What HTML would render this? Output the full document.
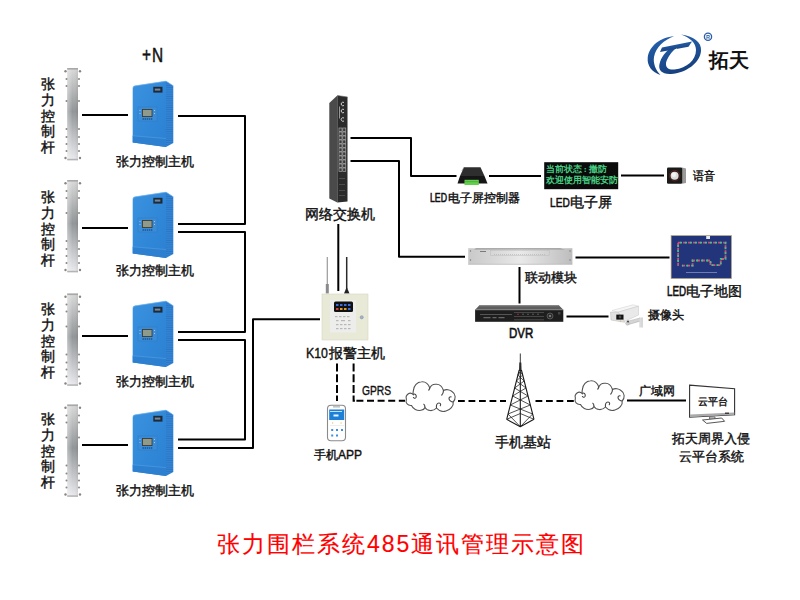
<!DOCTYPE html>
<html><head><meta charset="utf-8">
<style>
html,body{margin:0;padding:0;background:#fff;width:800px;height:600px;overflow:hidden;}
body{position:relative;font-family:"Liberation Sans",sans-serif;color:#111;}
.t{position:absolute;white-space:nowrap;line-height:1;-webkit-text-stroke:0.4px #111;}
.v{position:absolute;width:14px;font-size:14px;line-height:15.75px;text-align:center;-webkit-text-stroke:0.4px #111;}
.n{display:inline-block;transform-origin:0 50%;}
svg{position:absolute;left:0;top:0;}
</style></head><body>
<svg width="800" height="600" viewBox="0 0 800 600">
<defs>
  <linearGradient id="pole" x1="0" y1="0" x2="0" y2="1">
    <stop offset="0" stop-color="#dadada"/><stop offset="0.47" stop-color="#929698"/><stop offset="1" stop-color="#ebebef"/>
  </linearGradient>
  <linearGradient id="poleh" x1="0" y1="0" x2="1" y2="0">
    <stop offset="0" stop-color="#fff" stop-opacity="0.35"/><stop offset="0.5" stop-color="#fff" stop-opacity="0"/><stop offset="1" stop-color="#000" stop-opacity="0.08"/>
  </linearGradient>
  <linearGradient id="rack" x1="0" y1="0" x2="1" y2="0">
    <stop offset="0" stop-color="#c9c9c9"/><stop offset="0.25" stop-color="#d8d8d8"/><stop offset="0.5" stop-color="#e9e9e9"/><stop offset="0.8" stop-color="#cfcfcf"/><stop offset="1" stop-color="#bdbdbd"/>
  </linearGradient>
  <linearGradient id="hostf" x1="0" y1="0" x2="1" y2="1">
    <stop offset="0" stop-color="#3a92df"/><stop offset="1" stop-color="#2b80d2"/>
  </linearGradient>
  <pattern id="vents" width="4" height="2.2" patternUnits="userSpaceOnUse">
    <rect width="4" height="2.2" fill="#3283d4"/><rect y="1.4" width="4" height="0.8" fill="#2a76c4"/>
  </pattern>
  <g id="host">
    <!-- side -->
    <path d="M166 81L173.3 85.8V143L166 147Z" fill="url(#vents)"/>
    <!-- front -->
    <path d="M132.7 88.5Q132.7 86 135 85.7L166 81V147L132.7 142.5Z" fill="url(#hostf)"/>
    <path d="M132.7 135.8L166 138.5V147L132.7 142.5Z" fill="#2d80d0"/>
    <path d="M132.7 135.8L166 138.5" stroke="#5aa6e8" stroke-width="0.5" fill="none"/>
    <path d="M133 88Q133 86.2 135 85.9L166 81.2L173.3 85.8" stroke="#70b6f0" stroke-width="0.7" fill="none"/>
    <!-- logo plate -->
    <rect x="153.3" y="86.8" width="9.2" height="5.8" fill="#1f2a38"/>
    <rect x="154.8" y="88.6" width="5.5" height="2" fill="#6f8aa0"/>
    <!-- panel -->
    <rect x="138" y="107" width="19" height="14" fill="#3a8cd8" stroke="#2f78c0" stroke-width="0.5"/>
    <rect x="142" y="109" width="10.5" height="8" fill="#3e3a30"/>
    <rect x="142.9" y="109.9" width="8.7" height="6.2" fill="#8e9a8c"/>
    <g fill="#9fc8ee"><rect x="139.5" y="110" width="1" height="1"/><rect x="139.5" y="113" width="1" height="1"/><rect x="154" y="110" width="1" height="1"/><rect x="154" y="113" width="1" height="1"/></g>
    <g fill="#1b4f88"><rect x="142.5" y="118.3" width="1.4" height="1.4"/><rect x="144.6" y="118.3" width="1.4" height="1.4"/><rect x="146.7" y="118.3" width="1.4" height="1.4"/><rect x="148.8" y="118.3" width="1.4" height="1.4"/><rect x="150.9" y="118.3" width="1.4" height="1.4"/></g>
  </g>
  <g id="pol">
    <rect x="67.2" y="68" width="10.8" height="92.3" fill="url(#pole)"/>
    <rect x="67.2" y="68" width="10.8" height="92.3" fill="url(#poleh)"/>
    <rect x="67.2" y="68" width="10.8" height="1.6" fill="#a8a8a8"/>
    <rect x="67.2" y="158.8" width="10.8" height="1.5" fill="#b4b4b4"/>
    <g fill="#8a8580">
      <circle cx="65.5" cy="71.3" r="1.2"/><circle cx="80" cy="71.3" r="1.2"/>
      <circle cx="66.5" cy="79" r="1"/><circle cx="79" cy="79" r="1"/>
      <circle cx="66.5" cy="86" r="1"/><circle cx="79" cy="86" r="1"/>
      <circle cx="66.5" cy="101" r="1"/><circle cx="79" cy="101" r="1"/>
      <circle cx="66.5" cy="129" r="1"/><circle cx="79" cy="129" r="1"/>
      <circle cx="66.5" cy="137" r="1"/><circle cx="79" cy="137" r="1"/>
      <circle cx="66.5" cy="144" r="1"/><circle cx="79" cy="144" r="1"/>
      <circle cx="66.5" cy="151" r="1"/><circle cx="79" cy="151" r="1"/>
      <circle cx="65.5" cy="158" r="1.2"/><circle cx="80" cy="158" r="1.2"/>
    </g>
  </g>
  <g id="cloud">
    <path d="M413 394.5C410 391 405 395 406.4 399C405 403 408 406 411.5 405.5C413 409 417 411 421 410.3C423 410 424.5 409 425 407.5C427 411 433 412 436.5 408C439 411 443 412 446 411C450 410 454 406 453.2 402C456 399 456 394 452 391.5C450 389.5 446 389 443.5 390.5C442 386 440 384 436 384.3C433 384 431 385.5 429.8 388C428 383 425 381.5 421.5 381.8C417 382 414 386 413.5 390C413 392 413 393.5 413 394.5Z" fill="#fff" stroke="#555" stroke-width="1.1"/>
    <path d="M413 394.5C415 393 417 395.5 416 397.5C415 399 413.5 398 413.3 397M429.8 388C429.5 389 429 390 428.5 390.5M443.5 390.5C443.5 393 442.5 394.5 441.5 395.5M453.2 402C451 402 449 400 449 398.5C449 397 450.5 396.5 451.5 397M436.5 408C436 405 437 403 439 403C441 403 441 405 440 406M425 407.5C425 406 424.5 404.5 423.5 404" fill="none" stroke="#444" stroke-width="1.1"/>
  </g>
</defs>

<!-- poles -->
<use href="#pol"/>
<use href="#pol" y="112"/>
<use href="#pol" y="225.5"/>
<use href="#pol" y="336.5"/>
<!-- hosts -->
<use href="#host"/>
<use href="#host" y="111"/>
<use href="#host" y="220"/>
<use href="#host" y="329"/>

<g stroke="#000" stroke-width="2" fill="none" stroke-linejoin="round">
  <path d="M82 115H128M82 228H128M82 336H128M82 445H128"/>
  <path d="M178 116H245V224H178"/>
  <path d="M178 232H245V332H178"/>
  <path d="M178 340H245V439.5H178"/>
  <path d="M178 448H253V319.3H320"/>
  <path d="M350.5 138H411V176H456.5"/>
  <path d="M350.5 161H399V256.8H465"/>
  <path d="M338.3 224V291"/>
  <path d="M489 176H541M621 175.5H664"/>
  <path d="M575.5 257.6H669.5"/>
  <path d="M519.5 267V303.5"/>
  <path d="M566.5 316.5H608.5"/>
  <path d="M627 400.5H686"/>
</g>
<g stroke="#000" stroke-width="2" fill="none">
  <path d="M337 363.5V401" stroke-dasharray="8 2.7"/>
  <path d="M353.6 363.5V400.8H405" stroke-dasharray="8 2.7 8 2.7 8 2.7 6.5 1.5 7 3.6 7 3.6 7 3.6 7 3.6"/>
  <path d="M458 401H506" stroke-dasharray="6.8 3.7"/>
  <path d="M535.5 401H574" stroke-dasharray="6.8 3.7"/>
</g>

<!-- switch -->
<path d="M329.3 103L337.3 95.5V202.5L329.3 198.5Z" fill="#4a4a4a"/>
<path d="M337.3 95.5L347.5 97V201.5L337.3 202.5Z" fill="#2b2b2b"/>
<path d="M337.3 95.5L347.5 97" stroke="#666" stroke-width="0.6"/>
<g fill="none" stroke="#d0d0d0" stroke-width="1">
  <path d="M344 102.5A1.8 1.8 0 1 0 344 105.5"/><path d="M344 109.5A1.8 1.8 0 1 0 344 112.5"/><path d="M344 118A1.8 1.8 0 1 0 344 121"/>
</g>
<g fill="#999"><rect x="339" y="106.5" width="1" height="12"/></g>
<g fill="#3a3a3a" stroke="#b8b8b8" stroke-width="0.6"><rect x="339" y="128" width="3" height="3.3"/><rect x="342.8" y="128" width="3" height="3.3"/><rect x="339" y="132" width="3" height="3.3"/><rect x="342.8" y="132" width="3" height="3.3"/><rect x="339" y="136" width="3" height="3.3"/><rect x="342.8" y="136" width="3" height="3.3"/><rect x="339" y="140" width="3" height="3.3"/><rect x="342.8" y="140" width="3" height="3.3"/><rect x="339" y="144" width="3" height="3.3"/><rect x="342.8" y="144" width="3" height="3.3"/><rect x="339" y="148" width="3" height="3.3"/><rect x="342.8" y="148" width="3" height="3.3"/><rect x="339" y="152" width="3" height="3.3"/><rect x="342.8" y="152" width="3" height="3.3"/><rect x="339" y="156" width="3" height="3.3"/><rect x="342.8" y="156" width="3" height="3.3"/><rect x="339" y="160" width="3" height="3.3"/><rect x="342.8" y="160" width="3" height="3.3"/><rect x="339" y="164" width="3" height="3.3"/><rect x="342.8" y="164" width="3" height="3.3"/><rect x="339" y="168" width="3" height="3.3"/><rect x="342.8" y="168" width="3" height="3.3"/></g>
<g fill="#555"><rect x="339" y="178" width="6" height="0.8"/><rect x="339" y="184" width="6" height="0.8"/><rect x="339" y="190" width="6" height="0.8"/><rect x="339" y="195" width="6" height="0.8"/></g>
<!-- K10 antennas -->
<path d="M327.3 257V285" stroke="#9a9a9a" stroke-width="1.2"/>
<rect x="325.8" y="284" width="3" height="9.5" fill="#8a8a8a"/>
<path d="M346.7 257V289" stroke="#2a2a2a" stroke-width="1.5"/>
<path d="M344 293.5L346.7 287L349.5 293.5Z" fill="#222"/>
<!-- K10 box -->
<rect x="322" y="294" width="46" height="46" fill="#e8e9d7" stroke="#d5d6c3" stroke-width="0.6"/>
<rect x="330" y="300" width="26" height="32.5" fill="#ededeb"/>
<rect x="334" y="301.5" width="19" height="10.5" rx="1.5" fill="#111"/>
<g fill="#3a6ee0"><rect x="336" y="304" width="2.5" height="2"/><rect x="340" y="304" width="2.5" height="2"/><rect x="344" y="304" width="2.5" height="2"/><rect x="348" y="304" width="2.5" height="2"/></g>
<g fill="#d04040"><rect x="336" y="308" width="2.5" height="2"/></g><g fill="#e0a030"><rect x="340" y="308" width="2.5" height="2"/><rect x="344" y="308" width="2.5" height="2"/></g><g fill="#3a6ee0"><rect x="348" y="308" width="2.5" height="2"/></g>
<g fill="#b8b8b8">
  <rect x="335" y="316" width="2.5" height="1.2"/><rect x="339" y="316" width="2.5" height="1.2"/><rect x="343" y="316" width="2.5" height="1.2"/><rect x="347" y="316" width="2.5" height="1.2"/>
  <rect x="336" y="320" width="2.5" height="1.2"/><rect x="341" y="320" width="4" height="1.2"/><rect x="348" y="320" width="2.5" height="1.2"/>
  <rect x="336" y="324" width="2.5" height="1.2"/><rect x="340" y="324" width="2.5" height="1.2"/><rect x="344" y="324" width="2.5" height="1.2"/><rect x="348" y="324" width="2.5" height="1.2"/>
  <rect x="336" y="328" width="2.5" height="1.2"/><rect x="340" y="328" width="2.5" height="1.2"/><rect x="344" y="328" width="2.5" height="1.2"/><rect x="348" y="328" width="2.5" height="1.2"/>
</g>
<circle cx="361.7" cy="317.3" r="1.6" fill="#9fb4c8" stroke="#7d8e9e" stroke-width="0.5"/>

<!-- phone -->
<rect x="327.5" y="405.2" width="18" height="35.5" rx="3.5" fill="#fff" stroke="#8a8a8a" stroke-width="1.1"/>
<rect x="333" y="406.5" width="7" height="0.8" fill="#888"/>
<rect x="329.2" y="409.5" width="15" height="10.5" fill="#1e7fd6"/>
<rect x="330" y="411" width="12" height="1" fill="#bfe0ff"/>
<rect x="333.5" y="414.5" width="5" height="2" fill="#e8f3ff"/>
<g fill="#e6b860"><rect x="332" y="422.5" width="1.2" height="1"/><rect x="340.5" y="422.5" width="1.2" height="1"/></g>
<rect x="330" y="425" width="14" height="0.5" fill="#ddd"/>
<g fill="#3d8fe6"><rect x="331.2" y="429" width="2" height="2"/><rect x="336" y="429" width="2" height="2"/><rect x="341" y="429" width="2" height="2"/><rect x="331.2" y="434.5" width="2" height="2"/><rect x="336" y="434.5" width="2" height="2"/></g>

<!-- clouds -->
<use href="#cloud"/>
<use href="#cloud" x="169" y="-1"/>

<!-- tower -->
<path d="M520.3 353.5V363" stroke="#222" stroke-width="0.9"/>
<path d="M519.3 362.5H521.3L521.6 371H519Z" fill="#2a2a2a"/>
<g stroke="#1a1a1a" fill="none" stroke-linejoin="round">
  <path d="M519.2 370L506.7 419.3M521.4 370L534 419.3M520.3 372V426.7M506.7 419.3L520.3 426.7L534 419.3" stroke-width="1.1"/>
  <path d="M519.2 370.0L522.7 375.0M521.4 370.0L517.9 375.0M517.9 375.0L524.2 381.0M522.7 375.0L516.4 381.0M516.4 381.0L526.0 388.0M524.2 381.0L514.6 388.0M514.6 388.0L528.0 396.0M526.0 388.0L512.6 396.0M512.6 396.0L530.3 405.0M528.0 396.0L510.3 405.0M510.3 405.0L532.6 414.0M530.3 405.0L508.0 414.0M508.0 414.0L520.3 426.7M532.6 414.0L520.3 426.7M506.7 419.3L520.3 413.5L534 419.3" stroke-width="0.75"/>
</g>
<!-- monitor -->
<path d="M689.6 385.1L734.6 388.8V414.7L689.6 417.2Z" fill="#fff" stroke="#333" stroke-width="1.1"/>
<path d="M690 414.5L734.3 412.5V414.7L690 417Z" fill="#aaa"/>
<rect x="725" y="412.6" width="4" height="1.2" fill="#222"/>
<path d="M709.6 417H715V419H709.6Z" fill="#eee" stroke="#555" stroke-width="0.8"/>
<path d="M702.5 420L721.7 418L724.6 421.3L706.7 423.4Z" fill="#fff" stroke="#444" stroke-width="0.9"/>

<!-- LED controller -->
<path d="M464 167.3H480.5L484.5 176H460Z" fill="#2e2e2e"/>
<path d="M464 167.3L462 171" stroke="#666" stroke-width="0.6"/>
<path d="M460 176H484.5L487.5 183.5H457.5Z" fill="#161616"/>
<rect x="464.5" y="179.8" width="14.3" height="5.2" fill="#62d04c"/>
<rect x="465" y="181.5" width="13.3" height="0.6" fill="#3c9a30"/>

<!-- LED screen -->
<rect x="544.2" y="162.2" width="74" height="27" fill="#0b0b0b"/>

<!-- speaker -->
<path d="M682 167.5L686 168.5V183L682 183.7Z" fill="#9a9a9a"/>
<rect x="667" y="167.5" width="15.2" height="16.2" rx="1.2" fill="#1a1a1a"/>
<circle cx="674.6" cy="175.7" r="5.3" fill="#2a1a18" stroke="#7a2a20" stroke-width="0.6"/>
<circle cx="674.6" cy="175.7" r="4" fill="#dcdcdc"/>
<circle cx="673.8" cy="174.8" r="2.2" fill="#f4f4f4"/>

<!-- rack module -->
<rect x="468.2" y="248.2" width="104.2" height="16.1" fill="url(#rack)"/>
<path d="M476 248.2H560L565 249.6H474Z" fill="#9a9a9a"/>
<path d="M468.2 264.3H572.4" stroke="#aaa" stroke-width="0.6"/>
<rect x="490.7" y="250.5" width="58.5" height="5.2" fill="none" stroke="#bbb" stroke-width="0.5"/>
<rect x="480" y="251" width="6" height="0.8" fill="#666"/>
<g fill="#777"><circle cx="470.5" cy="251" r="0.7"/><circle cx="470.5" cy="260" r="0.7"/><circle cx="570" cy="251" r="0.7"/><circle cx="570" cy="260" r="0.7"/></g>
<path d="M494 254.5H546" stroke="#999" stroke-width="0.4" stroke-dasharray="1 1"/>

<!-- LED map -->
<rect x="671.1" y="235.6" width="60.4" height="43" fill="#22357a" stroke="#b8a880" stroke-width="0.7"/>
<rect x="706.2" y="236" width="3.8" height="3" fill="#e8e8f0"/>
<path d="M678.1 242.65H725.5V259H720.8V265.1H710.5V260.5H692.6V265.6H681.9M678.1 242.65V265.6" fill="none" stroke="#e0487a" stroke-width="1.8" stroke-dasharray="3 2"/>
<path d="M680 242.65H725.5V259H720.8V265.1H710.5V260.5H692.6V265.6H681.9M678.1 245V265.6" fill="none" stroke="#3cc488" stroke-width="1.8" stroke-dasharray="2 3"/>
<rect x="686" y="272" width="31" height="1" fill="#6f7cb0"/>

<!-- DVR -->
<path d="M479.4 305.3H558.8L563.3 309.8H475.1Z" fill="#5e5e5e"/>
<path d="M479.4 305.3H558.8L559.5 306.2H478.6Z" fill="#888"/>
<rect x="475.1" y="309.8" width="88.2" height="12" fill="#1e1e1e"/>
<rect x="475.1" y="309.4" width="88.2" height="0.8" fill="#8a8a8a"/>
<g fill="#7a7a7a"><rect x="480" y="314" width="32" height="0.6"/><rect x="483.5" y="317.2" width="7" height="1"/><rect x="492.5" y="317.2" width="4" height="1"/><rect x="498.5" y="317.2" width="6" height="1"/></g>
<g fill="#5a5a5a"><rect x="514" y="312.2" width="30" height="0.7"/><rect x="514" y="316" width="30" height="0.7"/><rect x="514" y="319.5" width="30" height="0.7"/></g>
<g fill="#888"><circle cx="523" cy="314.2" r="0.6"/><circle cx="528" cy="314.2" r="0.6"/><circle cx="533" cy="314.2" r="0.6"/><circle cx="538" cy="314.2" r="0.6"/></g>
<circle cx="518" cy="314.2" r="0.7" fill="#c33"/>
<circle cx="550" cy="316" r="3" fill="#2e2e2e" stroke="#6a6a6a" stroke-width="0.7"/>
<circle cx="550" cy="316" r="1.1" fill="#888"/>
<rect x="558" y="312" width="2.5" height="2.5" fill="#444"/>
<!-- camera -->
<path d="M612 310.5L633 304.8L638.5 306.2L618 312.2Z" fill="#f6f6f6" stroke="#cfcfcf" stroke-width="0.5"/>
<path d="M618 312.2L638.5 306.2V315L624.5 321.5Z" fill="#e9e9e9" stroke="#c4c4c4" stroke-width="0.5"/>
<path d="M610.5 312L618 312.2L624.5 321.5V322.3L611 320Z" fill="#e0e0e0" stroke="#b8b8b8" stroke-width="0.5"/>
<rect x="616.3" y="314.6" width="7.2" height="5" fill="#111"/>
<circle cx="620" cy="317" r="1.4" fill="#4a4a4a"/>
<circle cx="620.5" cy="321" r="0.6" fill="#d8b040"/>
<path d="M627 323.3L641 319.5" stroke="#d4d4d4" stroke-width="3"/>
<path d="M640.8 317.5V327.5" stroke="#dcdcdc" stroke-width="3"/>
<path d="M626.5 321.6L640 318M626.8 325L639.5 321.3M642.3 317.5V327.5" stroke="#a8a8a8" stroke-width="0.5" fill="none"/>
<circle cx="627.5" cy="323.3" r="1.8" fill="#cfcfcf" stroke="#999" stroke-width="0.4"/>
<circle cx="628" cy="321.5" r="0.9" fill="#333"/>
<!-- logo -->
<defs><linearGradient id="lg" x1="0" y1="0" x2="0.3" y2="1"><stop offset="0" stop-color="#2766b4"/><stop offset="1" stop-color="#17407f"/></linearGradient></defs>
<g fill="url(#lg)">
  <path d="M674 36.3C661 37 649 46 647.7 58C647 66 652 72 660.5 75C655.5 70 653 63 654 57C656 47 664 40 674 36.3Z"/>
  <path d="M681 34.5C693 36 702 42 701 51C700 63 686 73 671 74C662 74.5 658 70 659.5 64C661 57 666 51 671.5 47.5L678 46.3C672 51 667 58 666 63C665.5 68 669 70 674.5 69.5C687 68 696 60 696 50C696 43 690 37.5 681 34.5Z"/>
  <path d="M662 47.5L692 41.5L688.5 46.8L660 52Z"/>
</g>
<path d="M676.5 48.5C672 53 669 58 668 62" stroke="#fff" stroke-width="0.8" fill="none"/>
<circle cx="708" cy="36.8" r="3.6" fill="none" stroke="#2a5fa8" stroke-width="1.3"/>
<text x="706" y="39.2" font-size="5.5" font-weight="bold" fill="#2a5fa8" font-family="Liberation Sans">R</text>
</svg>

<div class="t" style="left:141.5px;top:44.5px;font-size:20px;-webkit-text-stroke:0.5px #111"><span class="n" style="transform:scaleX(.77);letter-spacing:1.2px">+N</span></div>

<div class="v" style="left:40.8px;top:77px;">张力控制杆</div>
<div class="v" style="left:40.8px;top:190px;">张力控制杆</div>
<div class="v" style="left:40.8px;top:302px;">张力控制杆</div>
<div class="v" style="left:40.8px;top:412px;">张力控制杆</div>

<div class="t" style="left:116px;top:155px;font-size:13px;">张力控制主机</div>
<div class="t" style="left:116px;top:264px;font-size:13px;">张力控制主机</div>
<div class="t" style="left:116px;top:375px;font-size:13px;">张力控制主机</div>
<div class="t" style="left:116px;top:484px;font-size:13px;">张力控制主机</div>

<div class="t" style="left:305px;top:208px;font-size:13.5px;">网络交换机</div>
<div class="t" style="left:306px;top:345.5px;font-size:14px;"><span class="n" style="transform:scaleX(.88);width:22.8px">K10</span>报警主机</div>
<div class="t" style="left:314px;top:449px;font-size:12px;">手机APP</div>
<div class="t" style="left:362px;top:384px;font-size:13.5px;"><span class="n" style="transform:scaleX(.76)">GPRS</span></div>
<div class="t" style="left:495px;top:435px;font-size:14px;">手机基站</div>
<div class="t" style="left:639px;top:385px;font-size:12px;">广域网</div>
<div class="t" style="left:697.5px;top:397px;font-size:9.5px;letter-spacing:0.3px;">云平台</div>
<div class="t" style="left:672px;top:432px;font-size:13.4px;">拓天周界入侵</div>
<div class="t" style="left:679px;top:450px;font-size:13.4px;">云平台系统</div>
<div class="t" style="left:430px;top:192px;font-size:12px;"><span class="n" style="font-size:12.5px;-webkit-text-stroke:0.6px #111;transform:scaleX(.7);width:17.5px">LED</span>电子屏控制器</div>
<div class="t" style="left:550px;top:196px;font-size:13.5px;"><span class="n" style="-webkit-text-stroke:0.6px #111;transform:scaleX(.75);width:20.3px">LED</span>电子屏</div>
<div class="t" style="left:693px;top:171px;font-size:11.5px;"><span class="n" style="transform:scaleX(.92)">语音</span></div>
<div class="t" style="left:525px;top:271px;font-size:13.3px;">联动模块</div>
<div class="t" style="left:666.5px;top:284px;font-size:13.5px;"><span class="n" style="font-size:14px;-webkit-text-stroke:0.6px #111;transform:scaleX(.7);width:19.5px">LED</span>电子地图</div>
<div class="t" style="left:509px;top:326px;font-size:14px;-webkit-text-stroke:0.6px #111"><span class="n" style="transform:scaleX(.82)">DVR</span></div>
<div class="t" style="left:647.5px;top:309px;font-size:12px;">摄像头</div>

<div class="t" style="left:546px;top:164px;font-size:9px;font-family:'Liberation Serif',serif;font-weight:bold;color:#46cf82;-webkit-text-stroke:0;line-height:11px;">当前状态<span style="padding:0 1.8px">:</span>撤防<br>欢迎使用智能安防</div>
<div class="t" style="left:708.5px;top:50.5px;font-size:19.5px;font-weight:bold;-webkit-text-stroke:0">拓天</div>

<div class="t" style="left:217px;top:533px;font-size:23px;color:#ff0000;letter-spacing:2px;-webkit-text-stroke:0.15px #ff0000">张力围栏系统485通讯管理示意图</div>
</body></html>
